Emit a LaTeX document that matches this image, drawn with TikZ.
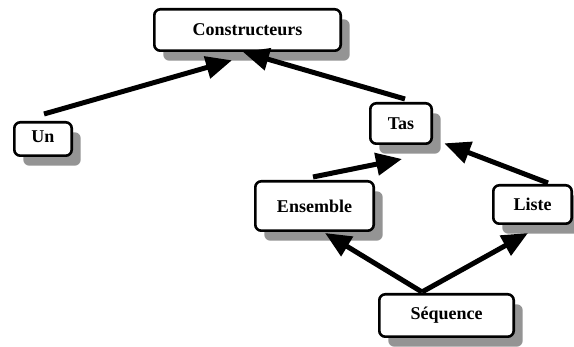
\documentclass[tikz,border=0pt]{standalone}
\usepackage{fontspec}
\setmainfont{Liberation Serif}
\usetikzlibrary{arrows.meta,shadows,calc}
\begin{document}
\begin{tikzpicture}[x=1pt,y=1pt,
  box/.style={draw, line width=2.6pt, rounded corners=6pt, fill=white, inner sep=0pt,
    font=\fontsize{18}{20}\selectfont\bfseries,
    drop shadow={shadow xshift=9pt, shadow yshift=-10pt, fill=black!42, opacity=1}},
  link/.style={line width=5pt, -{Triangle[length=26pt,width=22pt]}}]
\useasboundingbox (0,0) rectangle (574,347);

% class boxes
\node[box, minimum width=186.4, minimum height=41.4] (cons)  at (247.5,317)  {Constructeurs};
\node[box, minimum width=57.4,  minimum height=33.4] (un)    at (43,208)     {\raisebox{4pt}{Un}};
\node[box, minimum width=61.4,  minimum height=40.4] (tas)   at (401,223.5)  {Tas};
\node[box, minimum width=118.4, minimum height=49.4] (ens)   at (314.5,141)  {Ensemble};
\node[box, minimum width=78.4,  minimum height=38.4] (liste) at (532.5,142.5) {Liste};
\node[box, minimum width=134.4, minimum height=42.4] (seq)   at (446.5,31.5) {\raisebox{-3pt}{Séquence}};

% inheritance arrows
\draw[link] ($(un.north)+(1,7)$)     -- ($(cons.south)+(-15.5,-8.3)$);
\draw[link] ($(tas.north)+(4,3)$)    -- ($(cons.south)+(-4.5,0)$);
\draw[link] ($(ens.north)+(-1.5,3)$) -- ($(tas.south)+(1,-14)$);
\draw[link] ($(liste.north)+(15.5,1)$) -- ($(tas.south east)+(11.3,1.7)$);
\draw[link] ($(seq.north)+(-24.5,1)$) -- ($(ens.south)+(10.5,-1)$);
\draw[link] ($(seq.north)+(-24.5,1)$) -- ($(liste.south)+(-4.5,-8)$);
\end{tikzpicture}
\end{document}
